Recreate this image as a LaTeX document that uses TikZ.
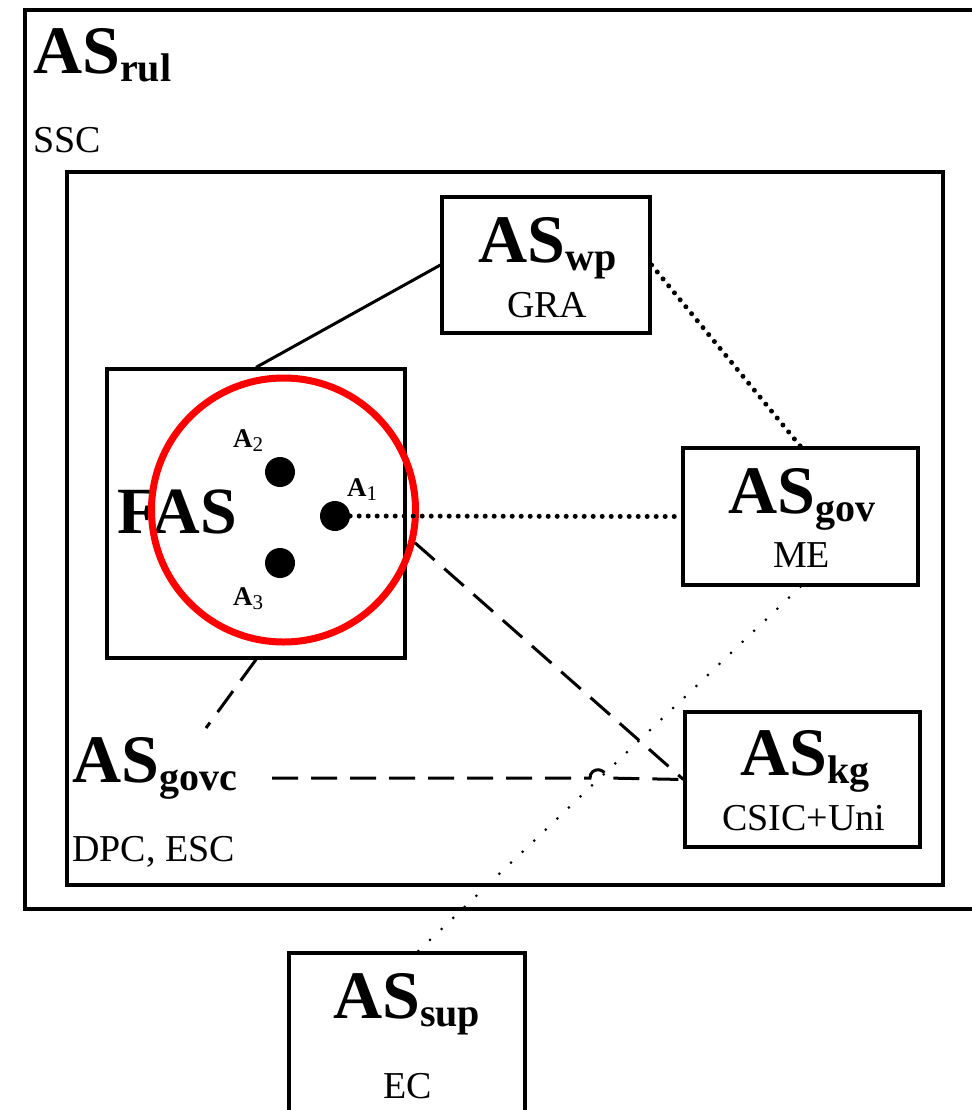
\documentclass[tikz,border=0pt]{standalone}
\usepackage{fontspec}
\setmainfont{Liberation Serif}
\newcommand\aslab[1]{{\fontsize{68}{68}\selectfont\bfseries AS}{\fontsize{40}{40}\selectfont\bfseries\raisebox{-8pt}{#1}}}
\newcommand\alab[1]{{\fontsize{27}{27}\selectfont\bfseries A}{\fontsize{21}{21}\selectfont\raisebox{-4pt}{#1}}}
\begin{document}
\begin{tikzpicture}[x=1pt,y=-1pt,
  box/.style={draw,line width=3.2pt,inner sep=0pt},
  lab/.style={inner sep=0pt,anchor=base west},
  sm/.style={inner sep=0pt,anchor=base west,font=\fontsize{38}{38}\selectfont},
  dotn/.style={circle,fill=black,minimum size=30pt,inner sep=0pt},
  solidc/.style={line width=3pt},
  densedot/.style={line width=5pt,line cap=round,dash pattern=on 0pt off 9pt},
  sparsedot/.style={line width=3pt,line cap=round,dash pattern=on 0pt off 16pt},
  dashc/.style={line width=3pt,dash pattern=on 26pt off 13pt}]
\useasboundingbox (0,0) rectangle (971,1110);
\fill[white] (0,0) rectangle (971,1110);
% frames
\draw[line width=4.5pt] (25,10) rectangle (1000,909);
\draw[line width=3.5pt] (67,172) rectangle (943,885);
\node[lab] (rulT) at (33,74) {\aslab{rul}};
\node[sm] (rulS) at (33,153) {SSC};
% boxes
\node[box,minimum width=208pt,minimum height=136pt] (wp) at (546,265) {};
\node[lab] (wpT) at (478,262) {\aslab{wp}};
\node[sm] (wpS) at (507,317) {GRA};
\node[box,minimum width=235pt,minimum height=137pt] (gov) at (800.5,516.5) {};
\node[lab] (govT) at (728,513) {\aslab{gov}};
\node[sm] (govS) at (773,567) {ME};
\node[box,minimum width=235pt,minimum height=135pt] (kg) at (802.5,779.5) {};
\node[lab] (kgT) at (740,775) {\aslab{kg}};
\node[sm] (kgS) at (722,830) {CSIC+Uni};
\node[box,minimum width=236pt,minimum height=214pt] (sup) at (407,1060) {};
\node[lab] (supT) at (333,1018) {\aslab{sup}};
\node[sm] (supS) at (383,1098) {EC};
\node[lab] (govcT) at (72,782) {\aslab{govc}};
\node[sm] (govcS) at (72,861) {DPC, ESC};
% FAS
\node[box,minimum width=298pt,minimum height=289pt] (fas) at (256,513.5) {};
\node[lab,font=\fontsize{66}{66}\selectfont\bfseries] (fasT) at (117,533) {FAS};
\node[dotn] (a1) at (335,516) {};
\node[dotn] (a2) at (280,472) {};
\node[dotn] (a3) at (280,563) {};
\node[lab] (a1L) at (347,496) {\alab{1}};
\node[lab] (a2L) at (233,447) {\alab{2}};
\node[lab] (a3L) at (233,605) {\alab{3}};
\node[circle,draw=red,line width=7pt,minimum size=264pt,inner sep=0pt] (fasc) at (283.5,510) {};
% connectors
\coordinate (govcEnd) at (206,728);
\coordinate (govcStart) at (272,778);
\coordinate (hopL) at (590,778);
\coordinate (hopR) at (606,778);
\draw[solidc] (fas.north) -- (wp.west);
\draw[densedot] (wp.east) -- (gov.north);
\draw[densedot] (a1.east) -- (gov.west);
\draw[dashc] (fasc.-14) -- (kg.west);
\draw[dashc] (fas.south) -- (govcEnd);
\draw[dashc] (govcStart) -- (hopL) .. controls (590,767) and (606,767) .. (hopR) -- (kg.west);
\draw[sparsedot] (gov.south) -- ([xshift=11pt]sup.north);
\end{tikzpicture}
\end{document}
